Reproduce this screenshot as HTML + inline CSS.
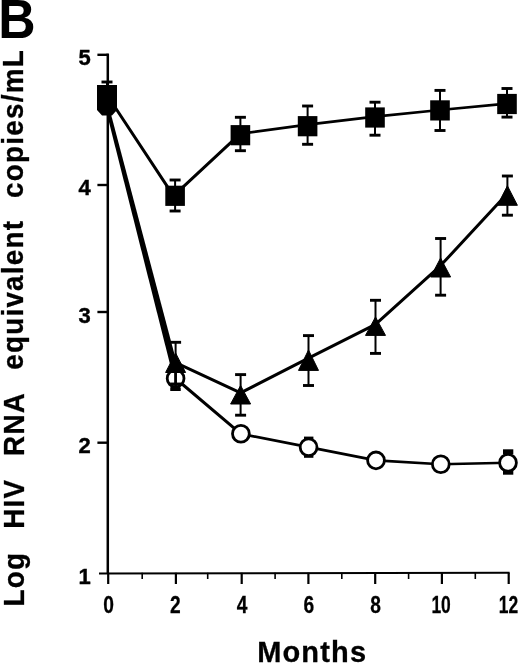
<!DOCTYPE html>
<html><head><meta charset="utf-8"><title>B</title>
<style>
html,body{margin:0;padding:0;background:#fff;}
body{width:520px;height:664px;overflow:hidden;}
svg{display:block;}
text{font-family:"Liberation Sans",Arial,Helvetica,sans-serif;font-weight:bold;fill:#000;}
</style></head><body>
<svg width="520" height="664" viewBox="0 0 520 664">
<rect width="520" height="664" fill="#fff"/>

<g stroke="#000" stroke-width="2" fill="none" stroke-linecap="butt">
<path d="M107.8 53.6 V573.8" stroke-width="2.5"/>
<path d="M99 573.5 L509.6 572.7"/>
<path d="M97.4 54.8 H107.5" stroke-width="2.4"/>
<path d="M97.4 185 H107.5" stroke-width="2.4"/>
<path d="M97.4 312 H107.5" stroke-width="2.4"/>
<path d="M97.4 442.7 H107.5" stroke-width="2.4"/>
<path d="M108.2 572.8 V584" stroke-width="2.2"/>
<path d="M142.2 572.8 V579" stroke-width="1.6"/>
<path d="M175.9 572.8 V584" stroke-width="2.2"/>
<path d="M207.7 572.8 V579" stroke-width="1.6"/>
<path d="M241.7 572.8 V584" stroke-width="2.2"/>
<path d="M275.1 572.8 V579" stroke-width="1.6"/>
<path d="M308.4 572.8 V584" stroke-width="2.2"/>
<path d="M341.8 572.8 V579" stroke-width="1.6"/>
<path d="M375.2 572.8 V584" stroke-width="2.2"/>
<path d="M408.6 572.8 V579" stroke-width="1.6"/>
<path d="M441.9 572.8 V584" stroke-width="2.2"/>
<path d="M475.3 572.8 V579" stroke-width="1.6"/>
<path d="M508.7 572.8 V584" stroke-width="2.2"/>
</g>
<g stroke="#000" fill="none" stroke-linecap="round">
<path d="M107.0 95.0 L173.5 195.8" stroke-width="3.00"/>
<path d="M173.5 195.8 L240.4 133.7" stroke-width="3.00"/>
<path d="M240.4 133.7 L307.6 124.6" stroke-width="2.65"/>
<path d="M307.6 124.6 L375.0 116.6" stroke-width="2.63"/>
<path d="M375.0 116.6 L440.0 110.0" stroke-width="2.61"/>
<path d="M440.0 110.0 L507.0 103.6" stroke-width="2.61"/>
<path d="M175.6 362.6 L240.6 392.9" stroke-width="3.00"/>
<path d="M240.6 392.9 L308.5 358.2" stroke-width="3.00"/>
<path d="M308.5 358.2 L375.5 324.4" stroke-width="3.00"/>
<path d="M375.5 324.4 L440.6 265.6" stroke-width="3.00"/>
<path d="M440.6 265.6 L507.4 193.6" stroke-width="3.00"/>
<path d="M175.6 378.5 L240.9 433.8" stroke-width="3.00"/>
<path d="M240.9 433.8 L308.6 447.2" stroke-width="2.72"/>
<path d="M308.6 447.2 L376.0 460.4" stroke-width="2.72"/>
<path d="M376.0 460.4 L440.8 464.2" stroke-width="2.57"/>
<path d="M440.8 464.2 L508.0 462.8" stroke-width="2.52"/>
</g>
<path d="M104.2 103 H108 L177.3 365 L176.2 378.5 H173.6 Z" fill="#000"/>
<g stroke="#000" fill="none">
<path d="M107 82 V95" stroke-width="2"/><path d="M101.5 82 H112.5" stroke-width="2.9"/>
<path d="M175.1 180 V211" stroke-width="2"/><path d="M169.6 180 H180.6" stroke-width="2.9"/><path d="M169.6 211 H180.6" stroke-width="2.9"/>
<path d="M240.4 117.3 V150.7" stroke-width="2"/><path d="M234.9 117.3 H245.9" stroke-width="2.9"/><path d="M234.9 150.7 H245.9" stroke-width="2.9"/>
<path d="M307.6 106 V144.3" stroke-width="2"/><path d="M302.1 106 H313.1" stroke-width="2.9"/><path d="M302.1 144.3 H313.1" stroke-width="2.9"/>
<path d="M375 102.2 V135.2" stroke-width="2"/><path d="M369.5 102.2 H380.5" stroke-width="2.9"/><path d="M369.5 135.2 H380.5" stroke-width="2.9"/>
<path d="M440 90.4 V130.5" stroke-width="2"/><path d="M434.5 90.4 H445.5" stroke-width="2.9"/><path d="M434.5 130.5 H445.5" stroke-width="2.9"/>
<path d="M507 88.5 V117.1" stroke-width="2"/><path d="M501.5 88.5 H512.5" stroke-width="2.9"/><path d="M501.5 117.1 H512.5" stroke-width="2.9"/>
</g>
<g stroke="#000" fill="none">
<path d="M175.6 378.5 V389.5" stroke-width="2"/><path d="M170.6 389.5 H180.6" stroke-width="2.9"/>
</g>
<g stroke="#000" stroke-width="2.8" fill="#fff">
<circle cx="175.6" cy="378.5" r="8.4"/>
<circle cx="240.9" cy="433.8" r="8.4"/>
<circle cx="308.6" cy="447.2" r="8.4"/>
<circle cx="376" cy="460.4" r="8.4"/>
<circle cx="440.8" cy="464.2" r="8.4"/>
<circle cx="508" cy="462.8" r="8.4"/>
</g>
<rect x="503" y="449.3" width="10.3" height="5" fill="#000"/><rect x="503" y="470.2" width="10.3" height="4.5" fill="#000"/>
<rect x="304" y="436.6" width="9.4" height="2.4" fill="#000"/><rect x="304" y="455.4" width="9.4" height="2.4" fill="#000"/>
<path d="M175.6 372 V388" stroke="#000" stroke-width="2.7"/>
<rect x="170.4" y="386.5" width="10" height="4.5" fill="#000"/>
<g stroke="#000" fill="none">
<path d="M175.6 342.3 V384" stroke-width="2"/><path d="M170.1 342.3 H181.1" stroke-width="2.9"/><path d="M170.1 384 H181.1" stroke-width="2.9"/>
<path d="M240.6 374.6 V415.2" stroke-width="2"/><path d="M235.1 374.6 H246.1" stroke-width="2.9"/><path d="M235.1 415.2 H246.1" stroke-width="2.9"/>
<path d="M308.5 335.6 V385.5" stroke-width="2"/><path d="M303.0 335.6 H314.0" stroke-width="2.9"/><path d="M303.0 385.5 H314.0" stroke-width="2.9"/>
<path d="M375.5 300.3 V353.4" stroke-width="2"/><path d="M370.0 300.3 H381.0" stroke-width="2.9"/><path d="M370.0 353.4 H381.0" stroke-width="2.9"/>
<path d="M440.6 238.5 V295.2" stroke-width="2"/><path d="M435.1 238.5 H446.1" stroke-width="2.9"/><path d="M435.1 295.2 H446.1" stroke-width="2.9"/>
<path d="M507.4 176 V215.2" stroke-width="2"/><path d="M501.9 176 H512.9" stroke-width="2.9"/><path d="M501.9 215.2 H512.9" stroke-width="2.9"/>
</g>
<g fill="#000" stroke="#000" stroke-width="1" stroke-linejoin="round">
<path d="M175.6 353 L185.6 372.5 H165.6 Z"/>
<path d="M240.6 385.5 L250.6 404 H230.6 Z"/>
<path d="M308.5 350 L318.5 370.4 H298.5 Z"/>
<path d="M375.5 317 L385.5 335.4 H365.5 Z"/>
<path d="M440.6 258 L450.6 277 H430.6 Z"/>
<path d="M507.4 185.8 L517.4 205.3 H497.4 Z"/>
</g>
<g fill="#000">
<path d="M97 85 H117 V110 L112 115.5 H102 L97 110 Z"/>
<rect x="165.3" y="185.7" width="19.6" height="20.2"/>
<rect x="230.6" y="125.1" width="19.6" height="20.2"/>
<rect x="297.8" y="116.1" width="19.6" height="20.2"/>
<rect x="365.2" y="107.4" width="19.6" height="20.2"/>
<rect x="430.2" y="100.3" width="19.6" height="20.2"/>
<rect x="497.2" y="93.9" width="19.6" height="20.2"/>
</g>
<text transform="translate(-1.8 38.1) scale(0.94 1)" font-size="55">B</text>
<text transform="translate(84.5 65.4)" font-size="22" text-anchor="middle" stroke="#000" stroke-width="0.4">5</text>
<text transform="translate(84.5 194.8)" font-size="22" text-anchor="middle" stroke="#000" stroke-width="0.4">4</text>
<text transform="translate(84.5 322.5)" font-size="22" text-anchor="middle" stroke="#000" stroke-width="0.4">3</text>
<text transform="translate(84.5 453.2)" font-size="22" text-anchor="middle" stroke="#000" stroke-width="0.4">2</text>
<text transform="translate(84.5 583.5)" font-size="22" text-anchor="middle" stroke="#000" stroke-width="0.4">1</text>
<text transform="translate(108.7 613.4) scale(0.78 1)" font-size="24.6" text-anchor="middle" stroke="#000" stroke-width="0.3">0</text>
<text transform="translate(175.4 613.4) scale(0.78 1)" font-size="24.6" text-anchor="middle" stroke="#000" stroke-width="0.3">2</text>
<text transform="translate(242.2 613.4) scale(0.78 1)" font-size="24.6" text-anchor="middle" stroke="#000" stroke-width="0.3">4</text>
<text transform="translate(308.9 613.4) scale(0.78 1)" font-size="24.6" text-anchor="middle" stroke="#000" stroke-width="0.3">6</text>
<text transform="translate(375.7 613.4) scale(0.78 1)" font-size="24.6" text-anchor="middle" stroke="#000" stroke-width="0.3">8</text>
<text transform="translate(441.1 613.4) scale(0.71 1)" font-size="24.6" text-anchor="middle" stroke="#000" stroke-width="0.3">10</text>
<text transform="translate(508.4 613.4) scale(0.71 1)" font-size="24.6" text-anchor="middle" stroke="#000" stroke-width="0.3">12</text>
<text transform="translate(257.2 662.3)" font-size="29" letter-spacing="1.15" stroke="#000" stroke-width="0.3">Months</text>
<text transform="translate(23.9 606.5) rotate(-90) scale(0.96 1)" font-size="29" letter-spacing="1.3" stroke="#000" stroke-width="0.3">Log</text>
<text transform="translate(23.9 528.8) rotate(-90) scale(0.96 1)" font-size="29" letter-spacing="1.3" stroke="#000" stroke-width="0.3">HIV</text>
<text transform="translate(23.7 455.9) rotate(-90) scale(0.96 1)" font-size="29" letter-spacing="1.3" stroke="#000" stroke-width="0.3">RNA</text>
<text transform="translate(23.3 369.8) rotate(-90) scale(0.96 1)" font-size="29" letter-spacing="1.3" stroke="#000" stroke-width="0.3">equivalent</text>
<text transform="translate(22.9 197.9) rotate(-90) scale(0.96 1)" font-size="29" letter-spacing="1.3" stroke="#000" stroke-width="0.3">copies/mL</text>
</svg></body></html>
